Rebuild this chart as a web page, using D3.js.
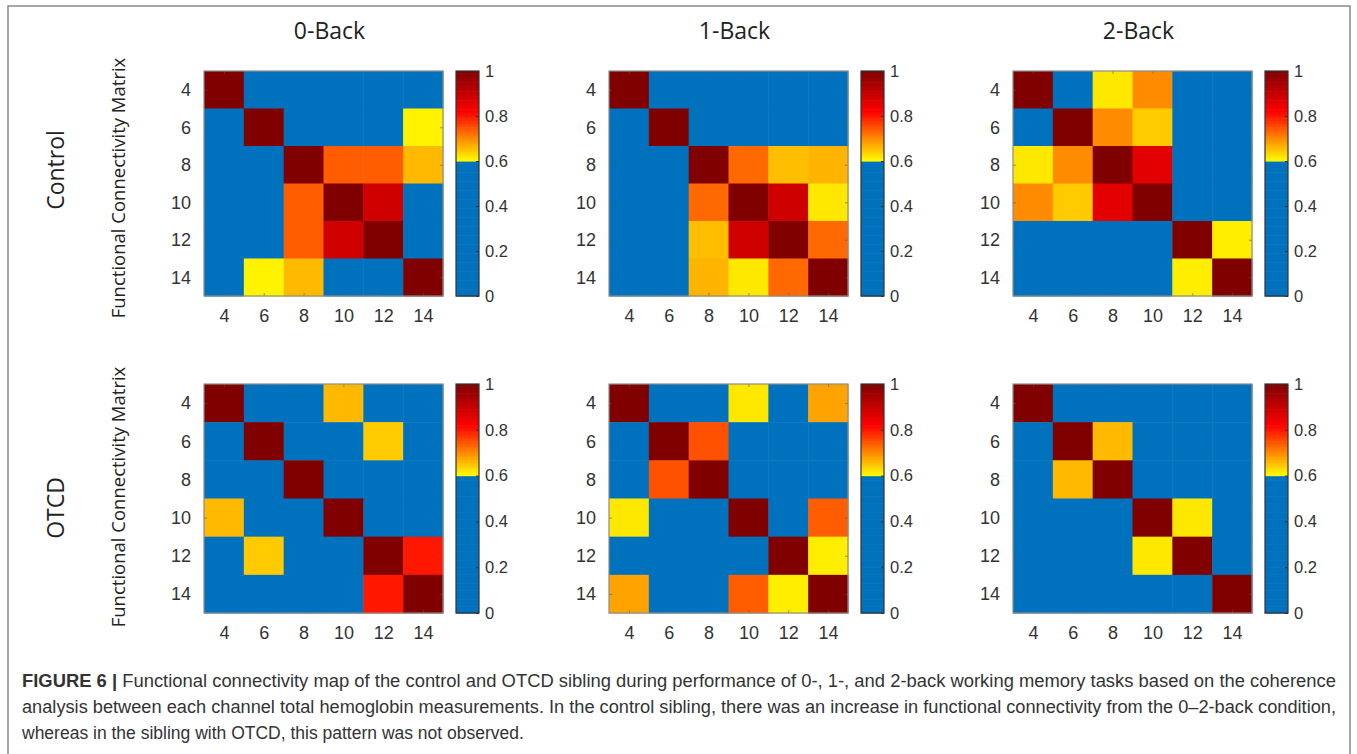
<!DOCTYPE html>
<html>
<head>
<meta charset="utf-8">
<script src="https://cdn.jsdelivr.net/npm/d3@7"></script>
<style>
  body { margin: 0; background: #fff; }
  svg { display: block; }
</style>
</head>
<body>
<div id="figure"></div>
<script>
// channel numbers on both axes
let channels = [4, 6, 8, 10, 12, 14];
let tasks = ['0-Back', '1-Back', '2-Back'];
let groups = ['Control', 'OTCD'];
let colorbarTicks = [0, 0.2, 0.4, 0.6, 0.8, 1];

// coherence matrices (rows = channel 4..14, cols = channel 4..14)
// cells below the 0.6 cut-off only show as blue, so 0.3 is a guess for them
let control0Back = [
  [1.00, 0.30, 0.30, 0.30, 0.30, 0.30],
  [0.30, 1.00, 0.30, 0.30, 0.30, 0.61],
  [0.30, 0.30, 1.00, 0.74, 0.74, 0.66],
  [0.30, 0.30, 0.74, 1.00, 0.89, 0.30],
  [0.30, 0.30, 0.74, 0.89, 1.00, 0.30],
  [0.30, 0.61, 0.66, 0.30, 0.30, 1.00]
];
let control1Back = [
  [1.00, 0.30, 0.30, 0.30, 0.30, 0.30],
  [0.30, 1.00, 0.30, 0.30, 0.30, 0.30],
  [0.30, 0.30, 1.00, 0.73, 0.655, 0.665],
  [0.30, 0.30, 0.73, 1.00, 0.89, 0.62],
  [0.30, 0.30, 0.655, 0.89, 1.00, 0.73],
  [0.30, 0.30, 0.665, 0.62, 0.73, 1.00]
];
let control2Back = [
  [1.00, 0.30, 0.62, 0.70, 0.30, 0.30],
  [0.30, 1.00, 0.70, 0.645, 0.30, 0.30],
  [0.62, 0.70, 1.00, 0.86, 0.30, 0.30],
  [0.70, 0.645, 0.86, 1.00, 0.30, 0.30],
  [0.30, 0.30, 0.30, 0.30, 1.00, 0.615],
  [0.30, 0.30, 0.30, 0.30, 0.615, 1.00]
];
let otcd0Back = [
  [1.00, 0.30, 0.30, 0.66, 0.30, 0.30],
  [0.30, 1.00, 0.30, 0.30, 0.645, 0.30],
  [0.30, 0.30, 1.00, 0.30, 0.30, 0.30],
  [0.66, 0.30, 0.30, 1.00, 0.30, 0.30],
  [0.30, 0.645, 0.30, 0.30, 1.00, 0.80],
  [0.30, 0.30, 0.30, 0.30, 0.80, 1.00]
];
let otcd1Back = [
  [1.00, 0.30, 0.30, 0.62, 0.30, 0.68],
  [0.30, 1.00, 0.75, 0.30, 0.30, 0.30],
  [0.30, 0.75, 1.00, 0.30, 0.30, 0.30],
  [0.62, 0.30, 0.30, 1.00, 0.30, 0.74],
  [0.30, 0.30, 0.30, 0.30, 1.00, 0.615],
  [0.68, 0.30, 0.30, 0.74, 0.615, 1.00]
];
let otcd2Back = [
  [1.00, 0.30, 0.30, 0.30, 0.30, 0.30],
  [0.30, 1.00, 0.66, 0.30, 0.30, 0.30],
  [0.30, 0.66, 1.00, 0.30, 0.30, 0.30],
  [0.30, 0.30, 0.30, 1.00, 0.62, 0.30],
  [0.30, 0.30, 0.30, 0.62, 1.00, 0.30],
  [0.30, 0.30, 0.30, 0.30, 0.30, 1.00]
];

let matrices = [
  [control0Back, control1Back, control2Back],
  [otcd0Back, otcd1Back, otcd2Back]
];

let captionLines = [
  'Functional connectivity map of the control and OTCD sibling during performance of 0-, 1-, and 2-back working memory tasks based on the coherence',
  'analysis between each channel total hemoglobin measurements. In the control sibling, there was an increase in functional connectivity from the 0\u20132-back condition,',
  'whereas in the sibling with OTCD, this pattern was not observed.'
];

// svg size
let svgWidth = 1357;
let svgHeight = 754;

// panel placement
let panelLeft = [204, 609, 1013];
let panelTop = [71, 384];
let panelHeight = [225, 229];
let panelWidth = 239;
let cbarGap = 252;
let cbarWidth = 23;

// row label centres (group name, y-axis label)
let groupLabelY = [170, 508];
let axisLabelY = [188, 497];

let axisFont = 'Liberation Sans, Arial, Helvetica, sans-serif';
let labelFont = 'Open Sans, sans-serif';

// colour map: blue below 0.6, then yellow -> orange -> red -> dark red
let hotScale = d3.scaleLinear()
  .domain([0.6, 0.71, 0.82, 1])
  .range(['#ffff00', '#ff8000', '#ff0000', '#800000'])
  .clamp(true);

function cellColor(v) {
  if (v < 0.6) {
    return '#0072bd';
  }
  return hotScale(v);
}

let svg = d3.select('#figure')
  .append('svg')
  .attr('width', svgWidth)
  .attr('height', svgHeight);

// frame around the figure
svg.append('path')
  .attr('d', `M8,${svgHeight} V6 H1350 V${svgHeight}`)
  .attr('fill', 'none')
  .attr('stroke', '#8a8a8a')
  .attr('stroke-width', 1.5);

// column titles
tasks.forEach(function (task, j) {
  svg.append('text')
    .attr('x', panelLeft[j] + panelWidth / 2 + 6)
    .attr('y', 39)
    .attr('text-anchor', 'middle')
    .style('font-family', labelFont)
    .style('font-size', '23px')
    .attr('fill', '#222')
    .text(task);
});

// row labels
groups.forEach(function (group, i) {
  svg.append('text')
    .attr('transform', `translate(64, ${groupLabelY[i]}) rotate(-90)`)
    .attr('text-anchor', 'middle')
    .style('font-family', labelFont)
    .style('font-size', '23px')
    .attr('fill', '#222')
    .text(group);

  svg.append('text')
    .attr('transform', `translate(125, ${axisLabelY[i]}) rotate(-90)`)
    .attr('text-anchor', 'middle')
    .style('font-family', labelFont)
    .style('font-size', '18.5px')
    .attr('fill', '#222')
    .text('Functional Connectivity Matrix');
});

// draw each heatmap with its colorbar
groups.forEach(function (group, i) {
  tasks.forEach(function (task, j) {
    let x0 = panelLeft[j];
    let y0 = panelTop[i];
    let h = panelHeight[i];
    let matrix = matrices[i][j];

    let xScale = d3.scaleLinear()
      .domain([3, 15])
      .range([x0, x0 + panelWidth]);

    let yScale = d3.scaleLinear()
      .domain([3, 15])
      .range([y0, y0 + h]);

    let cells = [];
    matrix.forEach(function (row, r) {
      row.forEach(function (v, c) {
        cells.push({ row: channels[r], col: channels[c], value: v });
      });
    });

    let panel = svg.append('g');

    panel.selectAll('rect.cell')
      .data(cells)
      .enter()
      .append('rect')
      .classed('cell', true)
      .attr('x', d => xScale(d.col - 1))
      .attr('y', d => yScale(d.row - 1))
      .attr('width', d => xScale(d.col + 1) - xScale(d.col - 1) + 0.5)
      .attr('height', d => yScale(d.row + 1) - yScale(d.row - 1) + 0.5)
      .attr('fill', d => cellColor(d.value));

    // axes with inward ticks like matlab
    let bottomAxis = d3.axisBottom(xScale)
      .tickValues(channels)
      .tickSizeInner(-3)
      .tickSizeOuter(0)
      .tickPadding(13);

    let leftAxis = d3.axisLeft(yScale)
      .tickValues(channels)
      .tickSizeInner(-3)
      .tickSizeOuter(0)
      .tickPadding(13);

    let topAxis = d3.axisTop(xScale)
      .tickValues(channels)
      .tickSizeInner(-3)
      .tickSizeOuter(0)
      .tickFormat('');

    let rightAxis = d3.axisRight(yScale)
      .tickValues(channels)
      .tickSizeInner(-3)
      .tickSizeOuter(0)
      .tickFormat('');

    let axes = [
      panel.append('g').attr('transform', `translate(0, ${y0 + h})`).call(bottomAxis),
      panel.append('g').attr('transform', `translate(${x0}, 0)`).call(leftAxis),
      panel.append('g').attr('transform', `translate(0, ${y0})`).call(topAxis),
      panel.append('g').attr('transform', `translate(${x0 + panelWidth}, 0)`).call(rightAxis)
    ];

    axes.forEach(function (ax) {
      ax.select('.domain').remove();
      ax.selectAll('line').attr('stroke', '#555').attr('stroke-opacity', 0.6);
      ax.selectAll('text')
        .style('font-family', axisFont)
        .style('font-size', '18px')
        .attr('fill', '#333');
    });

    // box around the plot
    panel.append('rect')
      .attr('x', x0)
      .attr('y', y0)
      .attr('width', panelWidth)
      .attr('height', h)
      .attr('fill', 'none')
      .attr('stroke', '#8c8c8c')
      .attr('stroke-width', 1.2);

    // colorbar
    let cx = x0 + cbarGap;
    let cScale = d3.scaleLinear()
      .domain([0, 1])
      .range([y0 + h, y0]);

    let levels = d3.range(0, 100).map(d => (d + 0.5) / 100);

    panel.selectAll('rect.level')
      .data(levels)
      .enter()
      .append('rect')
      .classed('level', true)
      .attr('x', cx)
      .attr('y', d => cScale(d + 0.005))
      .attr('width', cbarWidth)
      .attr('height', d => cScale(d - 0.005) - cScale(d + 0.005) + 0.6)
      .attr('fill', d => cellColor(d));

    let cbarAxis = d3.axisRight(cScale)
      .tickValues(colorbarTicks)
      .tickFormat(d3.format('~g'))
      .tickSizeInner(-3)
      .tickSizeOuter(0)
      .tickPadding(6);

    let cbarG = panel.append('g')
      .attr('transform', `translate(${cx + cbarWidth}, 0)`)
      .call(cbarAxis);

    cbarG.select('.domain').remove();
    cbarG.selectAll('line').attr('stroke', '#333');
    cbarG.selectAll('text')
      .style('font-family', axisFont)
      .style('font-size', '16.5px')
      .attr('fill', '#333');

    panel.append('rect')
      .attr('x', cx)
      .attr('y', y0)
      .attr('width', cbarWidth)
      .attr('height', h)
      .attr('fill', 'none')
      .attr('stroke', '#333')
      .attr('stroke-width', 1.2);
  });
});

// caption
let captionY = [687, 713, 739];
let captionWidth = [1314, 1314, null];

captionLines.forEach(function (line, k) {
  let t = svg.append('text')
    .attr('x', 22)
    .attr('y', captionY[k])
    .style('font-family', axisFont)
    .style('font-size', '17.5px')
    .attr('fill', '#333');

  if (k === 0) {
    t.append('tspan')
      .style('font-weight', 'bold')
      .text('FIGURE 6 | ');
  }
  t.append('tspan').text(line);

  if (captionWidth[k]) {
    t.attr('textLength', captionWidth[k])
      .attr('lengthAdjust', 'spacingAndGlyphs');
  }
});
</script>
</body>
</html>
